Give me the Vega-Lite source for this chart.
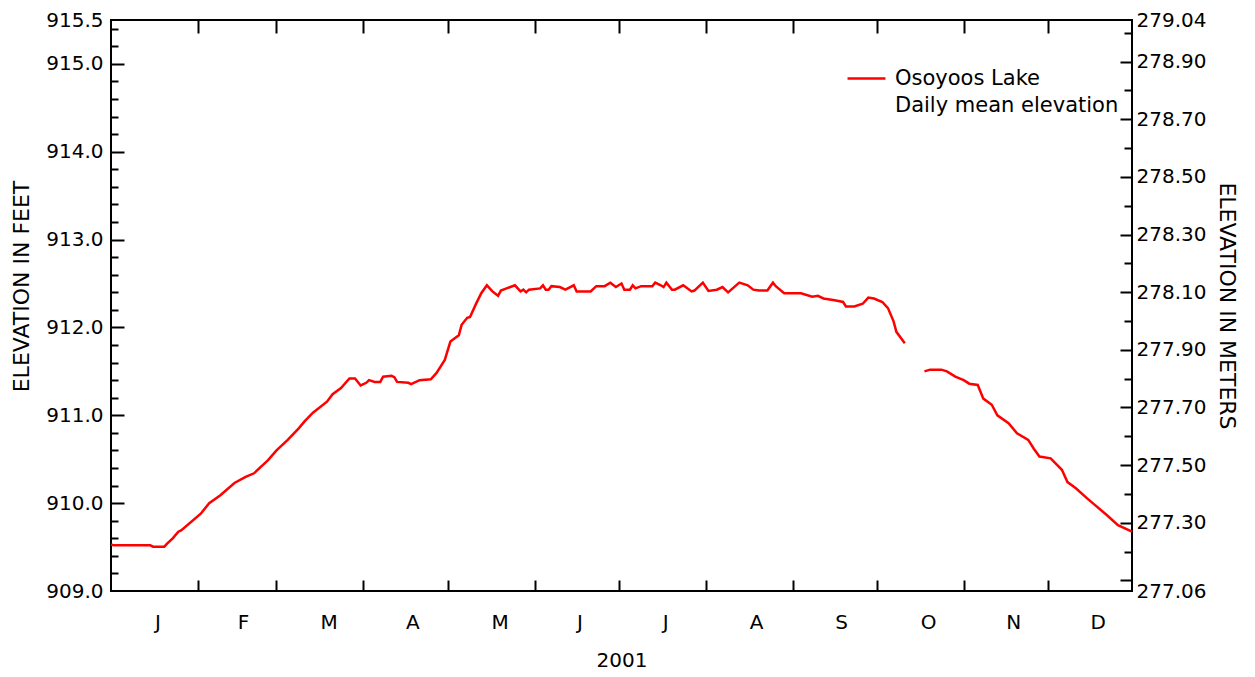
{
  "$schema": "https://vega.github.io/schema/vega-lite/v6.json",
  "width": 1021,
  "height": 571,
  "autosize": {"type": "none"},
  "padding": {"left": 111, "top": 20, "right": 123, "bottom": 86},
  "background": "white",
  "config": {
    "font": "DejaVu Sans",
    "view": {"stroke": "black", "strokeWidth": 2},
    "axis": {
      "domain": false, "grid": false, "tickColor": "black", "tickWidth": 2,
      "labelColor": "black", "labelFontSize": 20, "labelFont": "DejaVu Sans",
      "titleFont": "DejaVu Sans", "titleFontSize": 22, "titleFontWeight": "normal", "titleColor": "black",
      "labelFlush": false, "labelOverlap": false, "labelBound": false
    }
  },
  "datasets": {
    "lake": [
      {"date": "2001-01-01", "ft": 909.53},
      {"date": "2001-01-02", "ft": 909.52},
      {"date": "2001-01-15", "ft": 909.52},
      {"date": "2001-01-16", "ft": 909.505},
      {"date": "2001-01-20", "ft": 909.505},
      {"date": "2001-01-21", "ft": 909.54},
      {"date": "2001-01-23", "ft": 909.6},
      {"date": "2001-01-25", "ft": 909.675},
      {"date": "2001-01-26", "ft": 909.69},
      {"date": "2001-02-02", "ft": 909.88},
      {"date": "2001-02-05", "ft": 910.0},
      {"date": "2001-02-09", "ft": 910.09},
      {"date": "2001-02-14", "ft": 910.23},
      {"date": "2001-02-18", "ft": 910.3},
      {"date": "2001-02-21", "ft": 910.34},
      {"date": "2001-02-26", "ft": 910.49},
      {"date": "2001-03-01", "ft": 910.6},
      {"date": "2001-03-05", "ft": 910.72},
      {"date": "2001-03-09", "ft": 910.855},
      {"date": "2001-03-11", "ft": 910.93},
      {"date": "2001-03-14", "ft": 911.03},
      {"date": "2001-03-19", "ft": 911.155},
      {"date": "2001-03-21", "ft": 911.24},
      {"date": "2001-03-24", "ft": 911.31},
      {"date": "2001-03-27", "ft": 911.42},
      {"date": "2001-03-29", "ft": 911.42},
      {"date": "2001-03-31", "ft": 911.34},
      {"date": "2001-04-02", "ft": 911.37},
      {"date": "2001-04-03", "ft": 911.4},
      {"date": "2001-04-05", "ft": 911.38},
      {"date": "2001-04-07", "ft": 911.38},
      {"date": "2001-04-08", "ft": 911.44},
      {"date": "2001-04-11", "ft": 911.45},
      {"date": "2001-04-12", "ft": 911.435},
      {"date": "2001-04-13", "ft": 911.38},
      {"date": "2001-04-17", "ft": 911.37},
      {"date": "2001-04-18", "ft": 911.355},
      {"date": "2001-04-21", "ft": 911.4},
      {"date": "2001-04-25", "ft": 911.41},
      {"date": "2001-04-27", "ft": 911.48},
      {"date": "2001-04-30", "ft": 911.63},
      {"date": "2001-05-02", "ft": 911.84},
      {"date": "2001-05-05", "ft": 911.91},
      {"date": "2001-05-06", "ft": 912.03},
      {"date": "2001-05-08", "ft": 912.11},
      {"date": "2001-05-09", "ft": 912.12},
      {"date": "2001-05-11", "ft": 912.26},
      {"date": "2001-05-13", "ft": 912.39},
      {"date": "2001-05-15", "ft": 912.48},
      {"date": "2001-05-17", "ft": 912.41},
      {"date": "2001-05-19", "ft": 912.36},
      {"date": "2001-05-20", "ft": 912.42},
      {"date": "2001-05-22", "ft": 912.445},
      {"date": "2001-05-25", "ft": 912.48},
      {"date": "2001-05-27", "ft": 912.41},
      {"date": "2001-05-28", "ft": 912.43},
      {"date": "2001-05-29", "ft": 912.4},
      {"date": "2001-05-30", "ft": 912.43},
      {"date": "2001-06-03", "ft": 912.445},
      {"date": "2001-06-04", "ft": 912.48},
      {"date": "2001-06-05", "ft": 912.43},
      {"date": "2001-06-06", "ft": 912.43},
      {"date": "2001-06-07", "ft": 912.47},
      {"date": "2001-06-10", "ft": 912.46},
      {"date": "2001-06-12", "ft": 912.43},
      {"date": "2001-06-15", "ft": 912.48},
      {"date": "2001-06-16", "ft": 912.41},
      {"date": "2001-06-21", "ft": 912.41},
      {"date": "2001-06-23", "ft": 912.47},
      {"date": "2001-06-26", "ft": 912.47},
      {"date": "2001-06-28", "ft": 912.51},
      {"date": "2001-06-30", "ft": 912.46},
      {"date": "2001-07-02", "ft": 912.5},
      {"date": "2001-07-03", "ft": 912.43},
      {"date": "2001-07-05", "ft": 912.43},
      {"date": "2001-07-06", "ft": 912.48},
      {"date": "2001-07-07", "ft": 912.445},
      {"date": "2001-07-09", "ft": 912.47},
      {"date": "2001-07-13", "ft": 912.47},
      {"date": "2001-07-14", "ft": 912.51},
      {"date": "2001-07-16", "ft": 912.48},
      {"date": "2001-07-17", "ft": 912.46},
      {"date": "2001-07-18", "ft": 912.51},
      {"date": "2001-07-20", "ft": 912.43},
      {"date": "2001-07-21", "ft": 912.43},
      {"date": "2001-07-24", "ft": 912.48},
      {"date": "2001-07-27", "ft": 912.41},
      {"date": "2001-07-28", "ft": 912.42},
      {"date": "2001-07-31", "ft": 912.51},
      {"date": "2001-08-02", "ft": 912.415},
      {"date": "2001-08-05", "ft": 912.43},
      {"date": "2001-08-07", "ft": 912.46},
      {"date": "2001-08-09", "ft": 912.4},
      {"date": "2001-08-13", "ft": 912.51},
      {"date": "2001-08-16", "ft": 912.48},
      {"date": "2001-08-18", "ft": 912.43},
      {"date": "2001-08-20", "ft": 912.42},
      {"date": "2001-08-23", "ft": 912.42},
      {"date": "2001-08-25", "ft": 912.51},
      {"date": "2001-08-26", "ft": 912.47},
      {"date": "2001-08-29", "ft": 912.39},
      {"date": "2001-09-04", "ft": 912.39},
      {"date": "2001-09-08", "ft": 912.35},
      {"date": "2001-09-10", "ft": 912.36},
      {"date": "2001-09-12", "ft": 912.33},
      {"date": "2001-09-16", "ft": 912.31},
      {"date": "2001-09-19", "ft": 912.29},
      {"date": "2001-09-20", "ft": 912.24},
      {"date": "2001-09-23", "ft": 912.24},
      {"date": "2001-09-26", "ft": 912.27},
      {"date": "2001-09-28", "ft": 912.34},
      {"date": "2001-09-30", "ft": 912.33},
      {"date": "2001-10-03", "ft": 912.29},
      {"date": "2001-10-05", "ft": 912.22},
      {"date": "2001-10-07", "ft": 912.07},
      {"date": "2001-10-08", "ft": 911.95},
      {"date": "2001-10-11", "ft": 911.82},
      {"date": "2001-10-14", "ft": null},
      {"date": "2001-10-18", "ft": 911.5},
      {"date": "2001-10-20", "ft": 911.52},
      {"date": "2001-10-24", "ft": 911.52},
      {"date": "2001-10-26", "ft": 911.5},
      {"date": "2001-10-29", "ft": 911.44},
      {"date": "2001-11-01", "ft": 911.4},
      {"date": "2001-11-03", "ft": 911.36},
      {"date": "2001-11-06", "ft": 911.345},
      {"date": "2001-11-08", "ft": 911.19},
      {"date": "2001-11-11", "ft": 911.12},
      {"date": "2001-11-13", "ft": 911.0},
      {"date": "2001-11-17", "ft": 910.91},
      {"date": "2001-11-20", "ft": 910.795},
      {"date": "2001-11-24", "ft": 910.72},
      {"date": "2001-11-26", "ft": 910.62},
      {"date": "2001-11-28", "ft": 910.53},
      {"date": "2001-12-02", "ft": 910.51},
      {"date": "2001-12-06", "ft": 910.38},
      {"date": "2001-12-08", "ft": 910.24},
      {"date": "2001-12-11", "ft": 910.17},
      {"date": "2001-12-15", "ft": 910.055},
      {"date": "2001-12-17", "ft": 910.0},
      {"date": "2001-12-22", "ft": 909.865},
      {"date": "2001-12-26", "ft": 909.75},
      {"date": "2001-12-31", "ft": 909.675}
    ],
    "ends": [
      {"date": "2001-01-01", "ft": 909.0, "m": 277.0632},
      {"date": "2001-12-31", "ft": 915.5, "m": 279.0444}
    ]
  },
  "layer": [
    {
      "data": {"name": "lake"},
      "mark": {"type": "line", "color": "#ff0000", "strokeWidth": 2.5, "invalid": "break-paths-show-domains"},
      "encoding": {
        "x": {
          "field": "date", "type": "temporal",
          "scale": {"type": "utc", "domain": [{"year": 2001, "month": 1, "date": 1, "utc": true}, {"year": 2001, "month": 12, "date": 31, "utc": true}]},
          "axis": {
            "orient": "bottom", "ticks": false, "labelAlign": "left", "labelBaseline": "top", "labelPadding": 21,
            "values": [
              {"year": 2001, "month": 1, "date": 16, "hours": 12, "utc": true},
              {"year": 2001, "month": 2, "date": 15, "utc": true},
              {"year": 2001, "month": 3, "date": 16, "hours": 12, "utc": true},
              {"year": 2001, "month": 4, "date": 16, "utc": true},
              {"year": 2001, "month": 5, "date": 16, "hours": 12, "utc": true},
              {"year": 2001, "month": 6, "date": 16, "utc": true},
              {"year": 2001, "month": 7, "date": 16, "hours": 12, "utc": true},
              {"year": 2001, "month": 8, "date": 16, "hours": 12, "utc": true},
              {"year": 2001, "month": 9, "date": 16, "utc": true},
              {"year": 2001, "month": 10, "date": 16, "hours": 12, "utc": true},
              {"year": 2001, "month": 11, "date": 16, "utc": true},
              {"year": 2001, "month": 12, "date": 16, "utc": true}
            ],
            "labelExpr": "slice(utcFormat(datum.value, '%b'), 0, 1)",
            "title": "2001", "titleFontSize": 20, "titlePadding": 18
          }
        },
        "y": {
          "field": "ft", "type": "quantitative",
          "scale": {"domain": [909, 915.5], "nice": false, "zero": false},
          "axis": {
            "orient": "left", "ticks": false, "labelPadding": 8, "format": ".1f",
            "values": [909, 910, 911, 912, 913, 914, 915, 915.5],
            "title": "ELEVATION IN FEET", "titlePadding": 12, "titleY": 266
          }
        },
        "color": {
          "datum": "Osoyoos Lake", "type": "nominal",
          "scale": {"domain": ["Osoyoos Lake", "Daily mean elevation"], "range": ["#ff0000", "rgba(255,255,255,0)"]},
          "legend": {
            "orient": "none", "legendX": 745, "legendY": 48, "title": null, "padding": 0,
            "symbolType": "M-4,0H4", "symbolSize": 90, "symbolStrokeWidth": 2.5,
            "labelFontSize": 21, "labelFont": "DejaVu Sans", "labelColor": "black", "labelLimit": 500,
            "labelOffset": 18, "rowPadding": 5
          }
        }
      }
    },
    {
      "data": {"name": "ends"},
      "mark": {"type": "point", "opacity": 0},
      "encoding": {
        "x": {
          "field": "date", "type": "temporal",
          "scale": {"type": "utc", "domain": [{"year": 2001, "month": 1, "date": 1, "utc": true}, {"year": 2001, "month": 12, "date": 31, "utc": true}]},
          "axis": {
            "orient": "bottom", "labels": false, "tickSize": -11, "title": null,
            "values": [
              {"year": 2001, "month": 2, "date": 1, "utc": true},
              {"year": 2001, "month": 3, "date": 1, "utc": true},
              {"year": 2001, "month": 4, "date": 1, "utc": true},
              {"year": 2001, "month": 5, "date": 1, "utc": true},
              {"year": 2001, "month": 6, "date": 1, "utc": true},
              {"year": 2001, "month": 7, "date": 1, "utc": true},
              {"year": 2001, "month": 8, "date": 1, "utc": true},
              {"year": 2001, "month": 9, "date": 1, "utc": true},
              {"year": 2001, "month": 10, "date": 1, "utc": true},
              {"year": 2001, "month": 11, "date": 1, "utc": true},
              {"year": 2001, "month": 12, "date": 1, "utc": true}
            ]
          }
        },
        "y": {
          "field": "ft", "type": "quantitative",
          "scale": {"domain": [909, 915.5], "nice": false, "zero": false},
          "axis": {"orient": "left", "labels": false, "tickSize": -13, "title": null, "values": [910, 911, 912, 913, 914, 915]}
        }
      }
    },
    {
      "data": {"name": "ends"},
      "mark": {"type": "point", "opacity": 0},
      "encoding": {
        "x": {
          "field": "date", "type": "temporal",
          "scale": {"type": "utc", "domain": [{"year": 2001, "month": 1, "date": 1, "utc": true}, {"year": 2001, "month": 12, "date": 31, "utc": true}]},
          "axis": {
            "orient": "top", "labels": false, "tickSize": -13, "title": null,
            "values": [
              {"year": 2001, "month": 2, "date": 1, "utc": true},
              {"year": 2001, "month": 3, "date": 1, "utc": true},
              {"year": 2001, "month": 4, "date": 1, "utc": true},
              {"year": 2001, "month": 5, "date": 1, "utc": true},
              {"year": 2001, "month": 6, "date": 1, "utc": true},
              {"year": 2001, "month": 7, "date": 1, "utc": true},
              {"year": 2001, "month": 8, "date": 1, "utc": true},
              {"year": 2001, "month": 9, "date": 1, "utc": true},
              {"year": 2001, "month": 10, "date": 1, "utc": true},
              {"year": 2001, "month": 11, "date": 1, "utc": true},
              {"year": 2001, "month": 12, "date": 1, "utc": true}
            ]
          }
        },
        "y": {
          "field": "ft", "type": "quantitative",
          "scale": {"domain": [909, 915.5], "nice": false, "zero": false},
          "axis": {
            "orient": "left", "labels": false, "tickSize": -7, "title": null,
            "values": [909.2, 909.4, 909.6, 909.8, 910.2, 910.4, 910.6, 910.8, 911.2, 911.4, 911.6, 911.8, 912.2, 912.4, 912.6, 912.8, 913.2, 913.4, 913.6, 913.8, 914.2, 914.4, 914.6, 914.8, 915.2, 915.4]
          }
        }
      }
    },
    {
      "data": {"name": "ends"},
      "mark": {"type": "point", "opacity": 0},
      "encoding": {
        "y": {
          "field": "m", "type": "quantitative",
          "scale": {"domain": [277.0632, 279.0444], "nice": false, "zero": false},
          "axis": {
            "orient": "right", "ticks": false, "labelPadding": 4, "format": ".2f",
            "values": [277.0632, 277.3, 277.5, 277.7, 277.9, 278.1, 278.3, 278.5, 278.7, 278.9, 279.0444],
            "title": "ELEVATION IN METERS", "titleAngle": 90, "titlePadding": 9
          }
        }
      }
    },
    {
      "data": {"name": "ends"},
      "mark": {"type": "point", "opacity": 0},
      "encoding": {
        "y": {
          "field": "m", "type": "quantitative",
          "scale": {"domain": [277.0632, 279.0444], "nice": false, "zero": false},
          "axis": {"orient": "right", "labels": false, "tickSize": -12, "title": null, "values": [277.1, 277.3, 277.5, 277.7, 277.9, 278.1, 278.3, 278.5, 278.7, 278.9]}
        }
      }
    },
    {
      "data": {"name": "ends"},
      "mark": {"type": "point", "opacity": 0},
      "encoding": {
        "y": {
          "field": "m", "type": "quantitative",
          "scale": {"domain": [277.0632, 279.0444], "nice": false, "zero": false},
          "axis": {"orient": "right", "labels": false, "tickSize": -8, "title": null, "values": [277.2, 277.4, 277.6, 277.8, 278.0, 278.2, 278.4, 278.6, 278.8, 279.0]}
        }
      }
    }
  ],
  "resolve": {"scale": {"y": "independent"}, "axis": {"x": "independent", "y": "independent"}}
}
